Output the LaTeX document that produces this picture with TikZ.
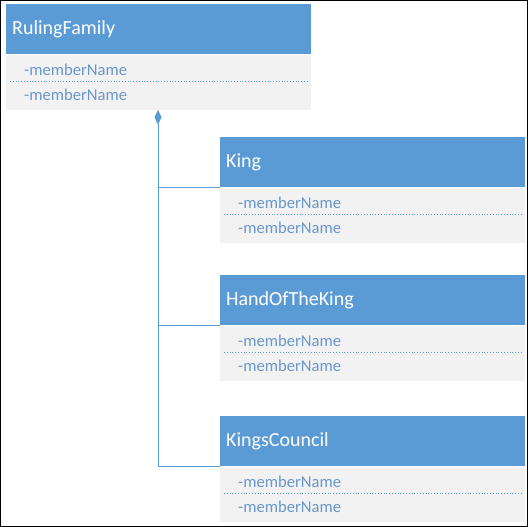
\documentclass[tikz,border=0pt]{standalone}
\usepackage{fontspec}
\setmainfont{Carlito}
\usetikzlibrary{arrows.meta,positioning}

\begin{document}
\begin{tikzpicture}[x=1pt,y=-1pt]
        % Colors
        \definecolor{headblue}{HTML}{5B9BD5}
        \definecolor{bodygray}{HTML}{F2F2F2}
        \definecolor{membercolor}{HTML}{6A98CC}
        % Styles
        \tikzstyle{class head}=[anchor=north west,fill=headblue,text=white,font=\fontsize{20}{23}\selectfont,
            text width=293pt,inner xsep=6pt,inner ysep=0pt,minimum height=50pt,align=left]
        \tikzstyle{class body}=[fill=bodygray,minimum width=305pt,minimum height=55pt,inner sep=0pt]
        \tikzstyle{member}=[anchor=west,text=membercolor,font=\fontsize{16.6}{19}\selectfont,inner sep=0pt]
        \tikzstyle{separator}=[headblue,dotted,line width=0.8pt]
        \tikzstyle{link}=[headblue,line width=1pt]
        %The frame
        \useasboundingbox (0,0) rectangle (528,527);
        \draw[line width=1pt] (0.5,0.5) rectangle (527.5,526.5);
        %The classes
        \foreach \name/\title/\x/\y in {ruling/RulingFamily/6/4, king/King/220/137,
                hand/HandOfTheKing/220/275, council/KingsCouncil/220/416}
        {
            \node[class head] (\name) at (\x,\y) {\title};
            \node[class body,below=0pt of \name] (\name-body) {};
            \node[member] (\name-a) at ([shift={(18,15)}]\name-body.north west) {-memberName};
            \node[member] (\name-b) at ([shift={(18,40)}]\name-body.north west) {-memberName};
            \draw[separator] ([shift={(4,27)}]\name-body.north west) -- ([shift={(-4,27)}]\name-body.north east);
        }
        %The aggregation
        \coordinate (trunk) at ([xshift=152pt]ruling-body.south west);
        \draw[link,{Diamond[length=15pt,width=7pt]}-] (trunk) -- (trunk |- council.south west) -- (council.south west);
        \foreach \name in {king,hand}
            \draw[link] (trunk |- \name.south west) -- (\name.south west);
    \end{tikzpicture}
\end{document}
